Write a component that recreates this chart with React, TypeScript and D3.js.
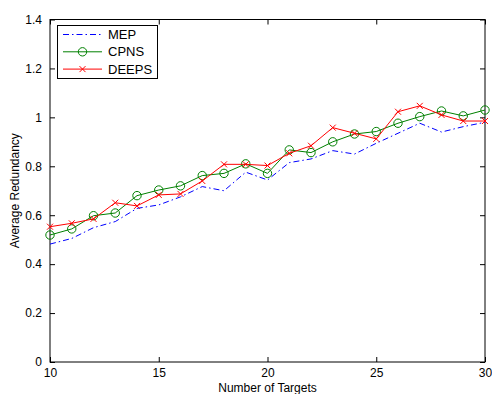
import { axisBottom, axisLeft, axisTop, axisRight, line, scaleLinear, select } from "d3";
import { useEffect, useRef } from "react";

const targets = [10, 11, 12, 13, 14, 15, 16, 17, 18, 19, 20, 21, 22, 23, 24, 25, 26, 27, 28, 29, 30];
const mep = [0.482, 0.505, 0.549, 0.574, 0.628, 0.642, 0.675, 0.717, 0.7, 0.776, 0.744, 0.815, 0.83, 0.864, 0.85, 0.894, 0.935, 0.976, 0.94, 0.962, 0.98];
const cpns = [0.519, 0.544, 0.598, 0.609, 0.68, 0.703, 0.72, 0.762, 0.771, 0.81, 0.771, 0.867, 0.856, 0.9, 0.932, 0.942, 0.976, 1.003, 1.026, 1.006, 1.03];
const deeps = [0.553, 0.567, 0.585, 0.651, 0.638, 0.683, 0.687, 0.74, 0.808, 0.808, 0.803, 0.853, 0.884, 0.958, 0.935, 0.912, 1.023, 1.047, 1.01, 0.985, 0.985];
const xTicks = [10, 15, 20, 25, 30];
const yTicks = [0, 0.2, 0.4, 0.6, 0.8, 1, 1.2, 1.4];

const series = [
  { name: "MEP", values: mep, color: "#0000ff", dash: "6,3,1.5,3", marker: "none" },
  { name: "CPNS", values: cpns, color: "#008000", dash: null, marker: "circle" },
  { name: "DEEPS", values: deeps, color: "#ff0000", dash: null, marker: "x" },
];

const W = 492;
const H = 394;
const FONT = "'Liberation Sans', Arial, Helvetica, sans-serif";

function App() {
  const svgRef = useRef(null);

  useEffect(() => {
    const svg = select(svgRef.current);
    svg.selectAll("*").remove();

    const left = 50;
    const right = 485;
    const top = 19.5;
    const bottom = 362;

    const xScale = scaleLinear().domain([10, 30]).range([left, right]);
    const yScale = scaleLinear().domain([0, 1.4]).range([bottom, top]);

    const styleAxis = (g, noLabels) => {
      g.select(".domain").remove();
      g.selectAll("line").attr("stroke", "#000").attr("stroke-width", 1);
      g.selectAll("text")
        .attr("font-family", FONT)
        .attr("font-size", 12)
        .attr("fill", "#000");
      if (noLabels) g.selectAll("text").remove();
    };

    const fmtY = (d) => (d === 0 ? "0" : d === 1 ? "1" : d.toFixed(1));

    svg.append("g")
      .attr("transform", `translate(0,${bottom})`)
      .call(axisBottom(xScale).tickValues(xTicks).tickSize(-5).tickPadding(6))
      .call((g) => styleAxis(g, false));
    svg.append("g")
      .attr("transform", `translate(0,${top})`)
      .call(axisTop(xScale).tickValues(xTicks).tickSize(-5))
      .call((g) => styleAxis(g, true));
    svg.append("g")
      .attr("transform", `translate(${left},0)`)
      .call(axisLeft(yScale).tickValues(yTicks).tickFormat(fmtY).tickSize(-5).tickPadding(8))
      .call((g) => styleAxis(g, false));
    svg.append("g")
      .attr("transform", `translate(${right},0)`)
      .call(axisRight(yScale).tickValues(yTicks).tickSize(-5))
      .call((g) => styleAxis(g, true));

    svg.append("rect")
      .attr("x", left)
      .attr("y", top)
      .attr("width", right - left)
      .attr("height", bottom - top)
      .attr("fill", "none")
      .attr("stroke", "#000")
      .attr("stroke-width", 1);

    const lineGen = line()
      .x((_, i) => xScale(targets[i]))
      .y((d) => yScale(d));

    const drawMarker = (g, kind, color, cx, cy) => {
      if (kind === "circle") {
        g.append("circle")
          .attr("cx", cx)
          .attr("cy", cy)
          .attr("r", 4.2)
          .attr("fill", "none")
          .attr("stroke", color)
          .attr("stroke-width", 1);
      } else if (kind === "x") {
        g.append("path")
          .attr("d", `M${cx - 3},${cy - 3}L${cx + 3},${cy + 3}M${cx - 3},${cy + 3}L${cx + 3},${cy - 3}`)
          .attr("stroke", color)
          .attr("stroke-width", 1);
      }
    };

    const plot = svg.append("g");
    series.forEach((s) => {
      plot.append("path")
        .datum(s.values)
        .attr("d", lineGen)
        .attr("fill", "none")
        .attr("stroke", s.color)
        .attr("stroke-width", 1)
        .attr("stroke-dasharray", s.dash);
      s.values.forEach((v, i) => drawMarker(plot, s.marker, s.color, xScale(targets[i]), yScale(v)));
    });

    // legend
    const legend = svg.append("g");
    legend.append("rect")
      .attr("x", 57.5)
      .attr("y", 25.5)
      .attr("width", 100)
      .attr("height", 53)
      .attr("fill", "#fff")
      .attr("stroke", "#000")
      .attr("stroke-width", 1);
    series.forEach((s, i) => {
      const y = 34.5 + i * 17.3;
      legend.append("line")
        .attr("x1", 63)
        .attr("x2", 102)
        .attr("y1", y)
        .attr("y2", y)
        .attr("stroke", s.color)
        .attr("stroke-width", 1)
        .attr("stroke-dasharray", s.dash);
      drawMarker(legend, s.marker, s.color, 82.5, y);
      legend.append("text")
        .attr("x", 108)
        .attr("y", y + 4.5)
        .attr("font-family", FONT)
        .attr("font-size", 13)
        .text(s.name);
    });

    svg.append("text")
      .attr("x", (left + right) / 2)
      .attr("y", 391.5)
      .attr("text-anchor", "middle")
      .attr("font-family", FONT)
      .attr("font-size", 12)
      .text("Number of Targets");

    svg.append("text")
      .attr("transform", `translate(19,${(top + bottom) / 2}) rotate(-90)`)
      .attr("text-anchor", "middle")
      .attr("font-family", FONT)
      .attr("font-size", 12)
      .text("Average Redundancy");
  }, []);

  return (
    <svg
      ref={svgRef}
      width={W}
      height={H}
      style={{ position: "absolute", left: 0, top: 0, background: "#fff" }}
    />
  );
}

export default App;
